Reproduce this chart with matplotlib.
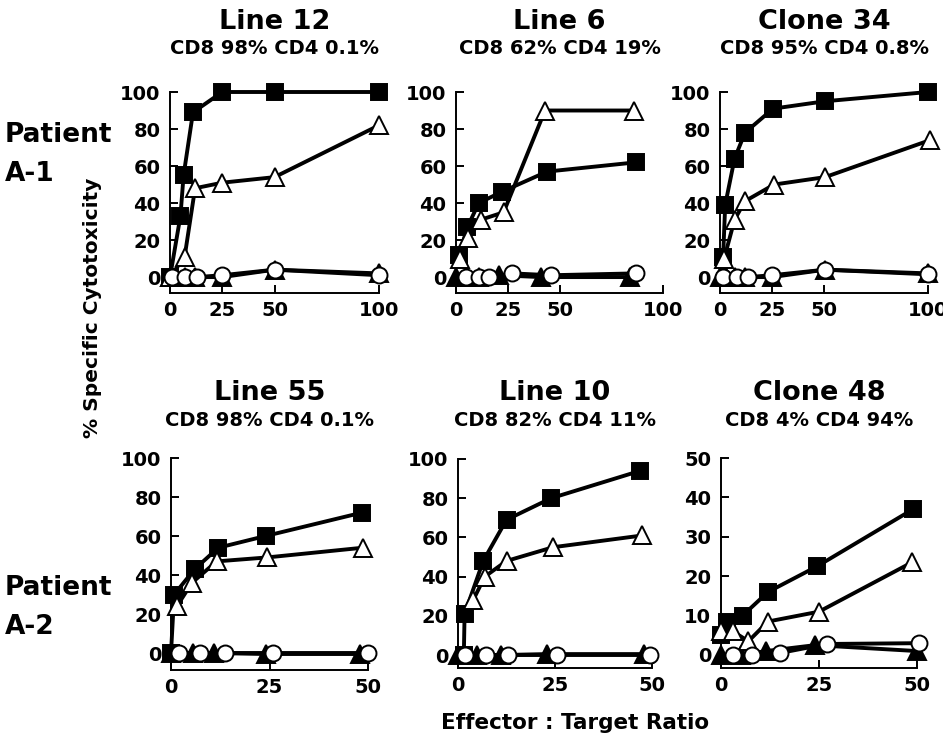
import matplotlib.pyplot as plt

plt.rcParams["font.family"] = ["DejaVu Sans"]
plt.rcParams["font.weight"] = "bold"

W, H = 943, 738

titles = ["Line 12", "Line 6", "Clone 34", "Line 55", "Line 10", "Clone 48"]
subtitles = ["CD8 98% CD4 0.1%", "CD8 62% CD4 19%", "CD8 95% CD4 0.8%",
             "CD8 98% CD4 0.1%", "CD8 82% CD4 11%", "CD8 4% CD4 94%"]
patients = [("Patient", "A-1"), ("Patient", "A-2")]

# each series: (x values, y values)
# Line 12
line12_sq = ([0, 5, 6.5, 11, 25, 50, 100], [0, 33, 55, 89, 100, 100, 100])
line12_tri = ([0, 7, 12, 25, 50, 100], [0, 11, 48, 51, 54, 82])
line12_circ = ([1, 7, 13, 25, 50, 100], [0, 0, 0, 1, 4, 1])
line12_ftri = ([0, 3, 7, 12, 25, 50, 100], [0, 0, 0, 0, 0, 4, 2])
# Line 6
line6_sq = ([1.5, 5.5, 11, 22, 44, 87], [12, 27, 40, 46, 57, 62])
line6_tri = ([2, 6, 12, 23, 43, 86], [10, 21, 31, 35, 90, 90])
line6_circ = ([5, 11, 16, 27, 46, 87], [0, 0, 0, 2, 1, 2])
line6_ftri = ([0, 5, 11, 21, 41, 84], [0, 0, 0, 1, 0, 0])
# Clone 34
clone34_sq = ([1.5, 2.5, 7, 12, 25.5, 50.5, 100], [11, 39, 64, 78, 91, 95, 100])
clone34_tri = ([2, 7, 12, 26, 50.5, 101], [10, 31, 41, 50, 54, 74])
clone34_circ = ([1.5, 8, 13.5, 25, 50.5, 100], [0, 0, 0, 1, 4, 1.5])
clone34_ftri = ([0, 3, 7, 12, 25, 50.5, 100], [0, 0, 0, 0, 0, 4, 2])
# Line 55
line55_sq = ([0, 0.8, 6, 12, 24, 48.5], [0, 30, 43, 54, 60, 72])
line55_tri = ([1.5, 5.3, 11.6, 24.3, 48.7], [24, 36, 47, 49, 54])
line55_circ = ([2, 7.4, 13.7, 26, 50], [0, 0, 0, 0, 0])
line55_ftri = ([0, 5.5, 11, 24, 48], [0, 0, 0, -0.5, -0.5])
# Line 10
line10_sq = ([1.5, 1.7, 6.5, 12.5, 24, 47], [0, 21, 48, 69, 80, 94])
line10_tri = ([3.9, 6.9, 12.5, 24.5, 47.5], [28, 40, 48, 55, 61])
line10_circ = ([1.7, 7.3, 12.9, 25.4, 49.5], [0, 0, 0, 0, 0])
line10_ftri = ([0, 5, 11, 23, 48], [0, 0, 0, 0.5, 0.5])
# Clone 48
clone48_sq = ([0, 1.5, 5.5, 12, 24.5, 49], [5, 8.5, 10, 16, 22.5, 37])
clone48_tri = ([0, 3, 7, 12, 25, 48.7], [6, 6, 3.5, 8.5, 11, 23.5])
clone48_circ = ([3, 8, 15, 27, 50.5], [0, 0, 0.5, 2.8, 3])
clone48_ftri = ([0, 5, 11.5, 24, 50], [0, 0, 1, 2.5, 1])

panels = [
    (line12_sq, line12_tri, line12_circ, line12_ftri),
    (line6_sq, line6_tri, line6_circ, line6_ftri),
    (clone34_sq, clone34_tri, clone34_circ, clone34_ftri),
    (line55_sq, line55_tri, line55_circ, line55_ftri),
    (line10_sq, line10_tri, line10_circ, line10_ftri),
    (clone48_sq, clone48_tri, clone48_circ, clone48_ftri),
]

# pixel boxes (left, right, top, bottom) and axis limits
boxes = [(170, 379, 92, 293), (456, 663, 92, 293), (720, 928, 92, 293),
         (171, 368, 458, 670), (458, 652, 459, 668), (721, 917, 458, 668)]
xlims = [100, 100, 100, 50, 50, 50]
ylims = [(-8.6, 100), (-8.6, 100), (-8.6, 100), (-8.7, 100), (-6.6, 100), (-3.3, 50)]
xticks = [[0, 25, 50, 100]] * 3 + [[0, 25, 50]] * 3
yticks = [list(range(0, 101, 20))] * 5 + [list(range(0, 51, 10))]


def fx(px):
    return px / W


def fy(py):
    return 1 - py / H


def draw_panel(fig, i):
    l, r, t, b = boxes[i]
    ax = fig.add_axes([fx(l), fy(b), (r - l) / W, (b - t) / H])
    sq, tri, circ, ftri = panels[i]
    common = dict(color="black", lw=2.8, mec="black", mew=1.4, clip_on=False)
    ax.plot(*ftri, marker="^", ms=13, mfc="black", zorder=2, **common)
    ax.plot(*sq, marker="s", ms=11, mfc="black", zorder=3, **common)
    ax.plot(*tri, marker="^", ms=13.5, mfc="white", zorder=4, **common)
    ax.plot(*circ, marker="o", ms=11.5, mfc="white", zorder=5, **common)

    ax.set_xlim(0, xlims[i])
    ax.set_ylim(*ylims[i])
    ax.set_xticks(xticks[i])
    ax.set_yticks(yticks[i])
    ax.spines["top"].set_visible(False)
    ax.spines["right"].set_visible(False)
    for s in ("left", "bottom"):
        ax.spines[s].set_linewidth(1.4)
    ax.tick_params(direction="in", length=6, width=1.4, labelsize=14)
    ax.tick_params(axis="y", pad=7)
    ax.tick_params(axis="x", pad=6)
    ax.patch.set_alpha(0)

    cx = (l + r) / 2
    ty = 22 if i < 3 else 393
    fig.text(fx(cx), fy(ty), titles[i], ha="center", va="center", fontsize=19.5)
    fig.text(fx(cx), fy(ty + 27), subtitles[i], ha="center", va="center", fontsize=14)
    return ax


fig = plt.figure(figsize=(W / 100, H / 100), dpi=100)
for i in range(6):
    draw_panel(fig, i)

for (p, a), yc in zip(patients, [135, 588]):
    fig.text(fx(5), fy(yc), p, ha="left", va="center", fontsize=19)
    fig.text(fx(5), fy(yc + 39), a, ha="left", va="center", fontsize=19)

fig.text(fx(93), fy(308), "% Specific Cytotoxicity", rotation=90,
         ha="center", va="center", fontsize=14.5)
fig.text(fx(575), fy(723), "Effector : Target Ratio", ha="center", va="center",
         fontsize=15.5)

fig.savefig("out.png", dpi=100)
